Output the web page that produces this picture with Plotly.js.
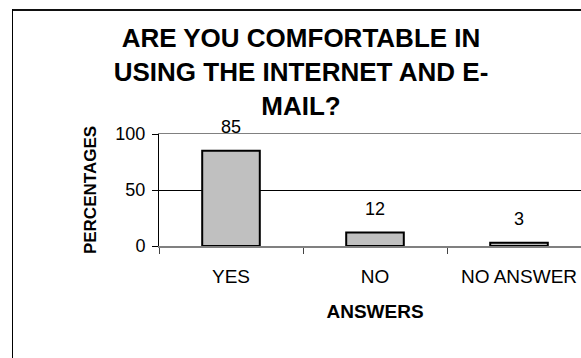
<!DOCTYPE html>
<html>
<head>
<meta charset="utf-8">
<script src="https://cdn.plot.ly/plotly-3.0.1.min.js"></script>
<style>
  html, body { margin: 0; padding: 0; width: 581px; height: 358px; overflow: hidden; background: #fff; }
  #wrap { position: relative; width: 581px; height: 358px; overflow: hidden; }
  #chart { position: absolute; left: 0; top: 0; width: 620px; height: 358px; }
  #frameTop { position: absolute; left: 12px; top: 9px; width: 569px; height: 2px; background: #111; pointer-events: none; }
  #frameLeft { position: absolute; left: 12px; top: 9px; width: 1px; height: 349px; background: #000; pointer-events: none; }
</style>
</head>
<body>
<div id="wrap">
  <div id="chart"></div>
  <div id="frameTop"></div>
  <div id="frameLeft"></div>
</div>
<script>
const categories = ["YES", "NO", "NO ANSWER"];
const percentages = [85, 12, 3];
const yTicks = [0, 50, 100];
const chartTitle = "ARE YOU COMFORTABLE IN<br>USING THE INTERNET AND E-<br>MAIL?";
const xTitle = "ANSWERS";
const yTitle = "PERCENTAGES";

const FONT = "Liberation Sans, Arial, sans-serif";

const W = 620, H = 358;
const M = { l: 159, r: 29, t: 134, b: 112 };

const trace = {
  type: "bar",
  x: categories,
  y: percentages,
  width: 0.4,
  marker: { color: "#c0c0c0", line: { color: "#000", width: 2 } },
  hoverinfo: "skip"
};

const labels = categories.map((c, i) => ({
  x: c, y: percentages[i], xref: "x", yref: "y",
  text: String(percentages[i]), showarrow: false,
  yanchor: "middle", yshift: 24,
  font: { family: FONT, size: 18, color: "#000" }
}));

const layout = {
  width: W, height: H,
  margin: M,
  paper_bgcolor: "#fff", plot_bgcolor: "#fff",
  showlegend: false,
  title: {
    text: chartTitle,
    font: { family: FONT, size: 26, color: "#000", weight: "bold" },
    x: 0.3287, xref: "paper", xanchor: "center",
    y: 1 - 47 / 358, yref: "container", yanchor: "top"
  },
  xaxis: {
    type: "category",
    showline: true, linecolor: "#808080", linewidth: 1.5, mirror: true,
    ticks: "outside", tickson: "boundaries", ticklen: 6, tickcolor: "#444",
    tickfont: { family: FONT, size: 19, color: "#000" },
    ticklabelstandoff: 13,
    showgrid: false, zeroline: false,
    title: { text: xTitle, font: { family: FONT, size: 19, color: "#000", weight: "bold" }, standoff: 18 }
  },
  yaxis: {
    range: [0, 100], tickvals: yTicks,
    showline: true, linecolor: "#000", linewidth: 1,
    ticks: "outside", ticklen: 6, tickcolor: "#000",
    tickfont: { family: FONT, size: 18, color: "#000" },
    ticklabelstandoff: 3,
    showgrid: true, gridcolor: "#000", gridwidth: 1, zeroline: false,
    title: { text: yTitle, font: { family: FONT, size: 17, color: "#000", weight: "bold" }, standoff: 14 }
  },
  annotations: labels
};

Plotly.newPlot("chart", [trace], layout, { staticPlot: true, displayModeBar: false });
</script>
</body>
</html>
